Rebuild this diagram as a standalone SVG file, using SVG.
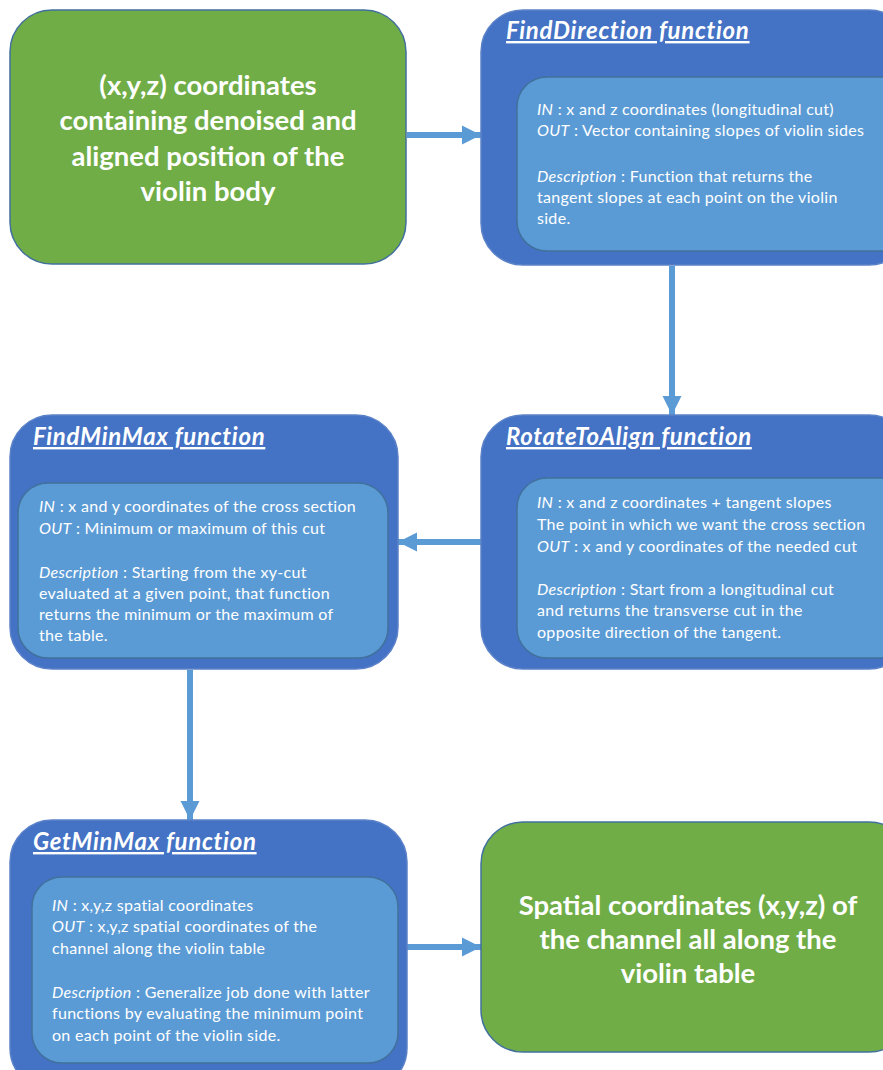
<svg xmlns="http://www.w3.org/2000/svg" width="883" height="1070" viewBox="0 0 883 1070">
  <defs>
    <style>
      .green { fill: #70AD47; stroke: #41719C; stroke-width: 1.5; }
      .outer { fill: #4472C4; stroke: #5B82C8; stroke-width: 1.5; }
      .inner { fill: #5B9BD5; stroke: #41719C; stroke-width: 1.5; }
      .big { font-family: Lato, "Liberation Sans", sans-serif; font-weight: bold; font-size: 27.5px; fill: #FFFFFF; text-anchor: middle; }
      .title { font-family: Lato, "Liberation Sans", sans-serif; font-weight: bold; font-style: italic; font-size: 24px; letter-spacing: 0.7px; fill: #FFFFFF; text-decoration: underline; }
      .body { font-family: Lato, "Liberation Sans", sans-serif; font-size: 16px; letter-spacing: 0.3px; fill: #FFFFFF; }
      .body tspan.k { font-style: italic; }
      .conn { stroke: #5B9BD5; stroke-width: 6; fill: none; }
    </style>
    <marker id="head" viewBox="0 0 10 10" refX="10" refY="5" markerWidth="3.2" markerHeight="3.6" markerUnits="strokeWidth" orient="auto">
      <path d="M0,0 L10,5 L0,10 z" fill="#5B9BD5"/>
    </marker>
  </defs>

  <!-- connectors -->
  <g id="connectors">
    <line class="conn" x1="407" y1="135" x2="481" y2="135" marker-end="url(#head)"/>
    <line class="conn" x1="672" y1="266" x2="672" y2="415" marker-end="url(#head)"/>
    <line class="conn" x1="481" y1="542" x2="398" y2="542" marker-end="url(#head)"/>
    <line class="conn" x1="190" y1="670" x2="190" y2="820" marker-end="url(#head)"/>
    <line class="conn" x1="407" y1="947" x2="481" y2="947" marker-end="url(#head)"/>
  </g>

  <!-- input data -->
  <g id="input">
    <rect class="green" x="10" y="10" width="396" height="254" rx="42"/>
    <text class="big" x="208" y="95">(x,y,z) coordinates</text>
    <text class="big" x="208" y="130">containing denoised and</text>
    <text class="big" x="208" y="166">aligned position of the</text>
    <text class="big" x="208" y="201">violin body</text>
  </g>

  <!-- FindDirection -->
  <g id="find-direction">
    <rect class="outer" x="481" y="10" width="430" height="255" rx="42"/>
    <text class="title" x="506" y="39">FindDirection function</text>
    <rect class="inner" x="517" y="77" width="400" height="174" rx="30"/>
    <text class="body" x="537" y="115"><tspan class="k">IN</tspan> : x and z coordinates (longitudinal cut)</text>
    <text class="body" x="537" y="136"><tspan class="k">OUT</tspan> : Vector containing slopes of violin sides</text>
    <text class="body" x="537" y="182"><tspan class="k">Description</tspan> : Function that returns the</text>
    <text class="body" x="537" y="203">tangent slopes at each point on the violin</text>
    <text class="body" x="537" y="224">side.</text>
  </g>

  <!-- RotateToAlign -->
  <g id="rotate-to-align">
    <rect class="outer" x="481" y="415" width="430" height="254" rx="42"/>
    <text class="title" x="506" y="445">RotateToAlign function</text>
    <rect class="inner" x="517" y="478" width="400" height="180" rx="30"/>
    <text class="body" x="537" y="508"><tspan class="k">IN</tspan> : x and z coordinates + tangent slopes</text>
    <text class="body" x="537" y="530">The point in which we want the cross section</text>
    <text class="body" x="537" y="552"><tspan class="k">OUT</tspan> : x and y coordinates of the needed cut</text>
    <text class="body" x="537" y="595"><tspan class="k">Description</tspan> : Start from a longitudinal cut</text>
    <text class="body" x="537" y="616">and returns the transverse cut in the</text>
    <text class="body" x="537" y="638">opposite direction of the tangent.</text>
  </g>

  <!-- FindMinMax -->
  <g id="find-min-max">
    <rect class="outer" x="10" y="415" width="388" height="254" rx="42"/>
    <text class="title" x="33" y="445">FindMinMax function</text>
    <rect class="inner" x="18" y="483" width="370" height="175" rx="30"/>
    <text class="body" x="39" y="512"><tspan class="k">IN</tspan> : x and y coordinates of the cross section</text>
    <text class="body" x="39" y="534"><tspan class="k">OUT</tspan> : Minimum or maximum of this cut</text>
    <text class="body" x="39" y="578"><tspan class="k">Description</tspan> : Starting from the xy-cut</text>
    <text class="body" x="39" y="599">evaluated at a given point, that function</text>
    <text class="body" x="39" y="620">returns the minimum or the maximum of</text>
    <text class="body" x="39" y="641">the table.</text>
  </g>

  <!-- GetMinMax -->
  <g id="get-min-max">
    <rect class="outer" x="10" y="820" width="397" height="270" rx="42"/>
    <text class="title" x="33" y="850">GetMinMax function</text>
    <rect class="inner" x="32" y="877" width="366" height="186" rx="30"/>
    <text class="body" x="52" y="911"><tspan class="k">IN</tspan> : x,y,z spatial coordinates</text>
    <text class="body" x="52" y="932"><tspan class="k">OUT</tspan> : x,y,z spatial coordinates of the</text>
    <text class="body" x="52" y="954">channel along the violin table</text>
    <text class="body" x="52" y="998"><tspan class="k">Description</tspan> : Generalize job done with latter</text>
    <text class="body" x="52" y="1019">functions by evaluating the minimum point</text>
    <text class="body" x="52" y="1041">on each point of the violin side.</text>
  </g>

  <!-- output data -->
  <g id="output">
    <rect class="green" x="481" y="822" width="430" height="230" rx="42"/>
    <text class="big" x="688" y="915">Spatial coordinates (x,y,z) of</text>
    <text class="big" x="688" y="949">the channel all along the</text>
    <text class="big" x="688" y="983">violin table</text>
  </g>
</svg>
